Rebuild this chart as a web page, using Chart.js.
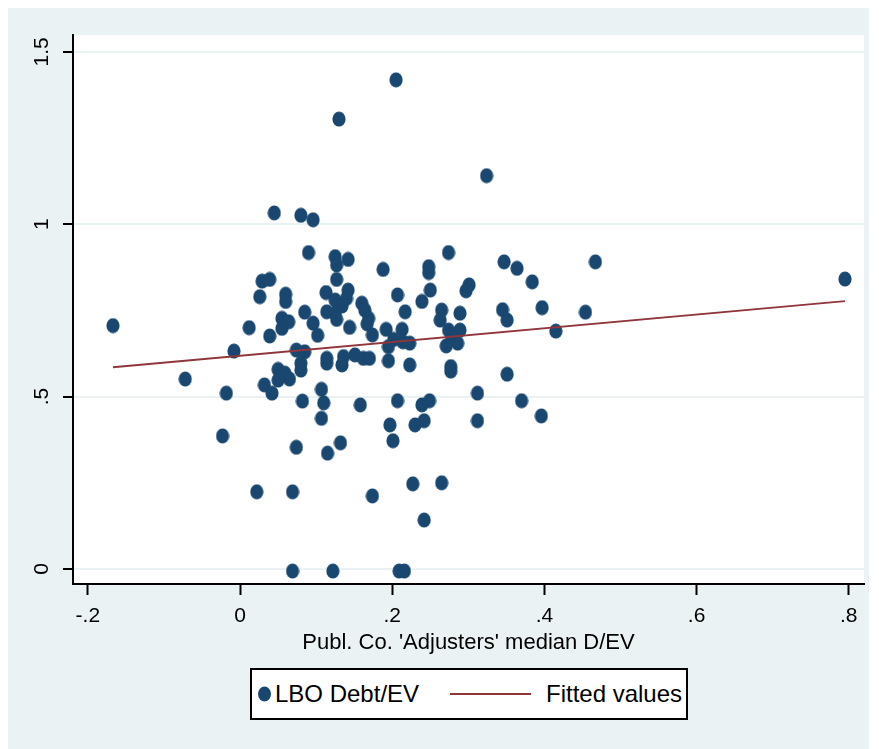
<!DOCTYPE html>
<html>
<head>
<meta charset="utf-8">
<script src="https://cdn.jsdelivr.net/npm/chart.js@4.4.1/dist/chart.umd.min.js"></script>
<style>
  html, body { margin: 0; padding: 0; background: #ffffff; }
  #wrap { position: relative; width: 879px; height: 749px; overflow: hidden; }
  #chart { position: absolute; left: 0; top: 0; }
  .legend {
    position: absolute; left: 250px; top: 668px; width: 438px; height: 52px;
    box-sizing: border-box; border: 2px solid #000; background: #fff;
    font-family: 'Liberation Sans', Arial, sans-serif; font-size: 24px; color: #000;
  }
  .legend span { position: absolute; top: 50%; transform: translateY(-50%); white-space: nowrap; }
  .legend .dot { left: 6px; width: 13px; height: 15px; border-radius: 50%; background: #1a476f; }
  .legend .line { left: 198px; width: 81px; height: 2px; background: #90353b; }
</style>
</head>
<body>
<div id="wrap">
  <canvas id="chart" width="879" height="749"></canvas>
  <div class="legend">
    <span class="dot"></span>
    <span style="left: 23px;">LBO Debt/EV</span>
    <span class="line"></span>
    <span style="left: 294px;">Fitted values</span>
  </div>
</div>
<script>
  // x: public company "adjusters" median D/EV, y: LBO Debt/EV
  const adjusterDEV = [
    0.205, 0.130, 0.324, 0.045, 0.080, 0.096, 0.090, 0.125, 0.127, 0.142,
    0.274, 0.188, 0.248, 0.248, 0.347, 0.364, 0.384, 0.467, 0.795, 0.127,
    0.029, 0.039, 0.026, 0.060, 0.060, 0.113, 0.142, 0.140, 0.125, 0.134,
    0.160, 0.085, 0.114, 0.125, 0.127, 0.164, 0.055, 0.064, 0.055, 0.096,
    0.012, 0.144, 0.039, 0.102, 0.169, 0.167, 0.174, 0.301, 0.297, 0.250,
    0.207, 0.239, 0.345, 0.351, 0.397, 0.415, 0.454, 0.217, 0.265, 0.289,
    0.263, 0.192, 0.213, 0.202, 0.214, 0.223, 0.195, 0.274, 0.289, 0.278,
    0.286, 0.271, -0.008, 0.074, 0.085, 0.080, 0.080, 0.050, 0.059, 0.065,
    0.050, 0.114, 0.114, 0.136, 0.134, 0.151, 0.162, 0.170, 0.195, 0.223,
    0.277, 0.277, 0.351, -0.167, -0.072, 0.032, 0.042, -0.018, 0.082, 0.107,
    0.110, 0.158, 0.107, 0.207, 0.239, 0.249, 0.197, 0.201, 0.230, 0.242,
    0.312, 0.312, 0.370, 0.396, -0.023, 0.074, 0.115, 0.132, 0.022, 0.069,
    0.174, 0.227, 0.265, 0.242, 0.069, 0.122, 0.209, 0.216
  ];
  const lboDebtEV = [
    1.419, 1.305, 1.141, 1.033, 1.026, 1.013, 0.918, 0.906, 0.882, 0.898,
    0.918, 0.869, 0.877, 0.860, 0.891, 0.872, 0.833, 0.891, 0.841, 0.840,
    0.835, 0.840, 0.790, 0.797, 0.776, 0.802, 0.809, 0.785, 0.780, 0.763,
    0.771, 0.745, 0.746, 0.742, 0.724, 0.751, 0.727, 0.717, 0.698, 0.713,
    0.700, 0.701, 0.676, 0.678, 0.727, 0.711, 0.679, 0.824, 0.807, 0.809,
    0.795, 0.776, 0.752, 0.722, 0.758, 0.690, 0.745, 0.746, 0.751, 0.742,
    0.722, 0.695, 0.695, 0.666, 0.659, 0.655, 0.645, 0.693, 0.693, 0.676,
    0.655, 0.647, 0.632, 0.635, 0.630, 0.597, 0.577, 0.579, 0.568, 0.551,
    0.548, 0.611, 0.597, 0.616, 0.592, 0.621, 0.611, 0.611, 0.604, 0.592,
    0.587, 0.574, 0.565, 0.706, 0.551, 0.534, 0.510, 0.510, 0.487, 0.521,
    0.482, 0.476, 0.437, 0.488, 0.476, 0.488, 0.418, 0.372, 0.418, 0.430,
    0.510, 0.430, 0.488, 0.444, 0.386, 0.353, 0.336, 0.366, 0.224, 0.224,
    0.212, 0.247, 0.250, 0.142, -0.006, -0.006, -0.006, -0.006
  ];
  // fitted line, evaluated at the smallest and largest x
  const fitX = [-0.167, 0.795];
  const fitY = [0.585, 0.777];

  const xTicks = [-0.2, 0, 0.2, 0.4, 0.6, 0.8];
  const xTickLabels = ['-.2', '0', '.2', '.4', '.6', '.8'];
  const yTicks = [0, 0.5, 1, 1.5];
  const yTickLabels = ['0', '.5', '1', '1.5'];

  const navy = '#1a476f';
  const maroon = '#90353b';
  const frame = '#eaf2f3';

  Chart.defaults.font.family = "'Liberation Sans', Arial, sans-serif";
  Chart.defaults.color = '#000';

  // Stata-like marker: a slightly tall ellipse
  const marker = document.createElement('canvas');
  marker.width = 14;
  marker.height = 16;
  (function () {
    const c = marker.getContext('2d');
    c.fillStyle = navy;
    c.beginPath();
    c.ellipse(7, 8, 6.6, 7.6, 0, 0, Math.PI * 2);
    c.fill();
  })();

  const backdrop = {
    id: 'backdrop',
    beforeDraw(chart) {
      const { ctx, chartArea } = chart;
      ctx.save();
      ctx.fillStyle = '#ffffff';
      ctx.fillRect(0, 0, chart.width, chart.height);
      ctx.fillStyle = frame;
      ctx.fillRect(8, 8, 861, 741);
      ctx.fillStyle = '#ffffff';
      ctx.fillRect(chartArea.left, chartArea.top, chartArea.right - chartArea.left, chartArea.bottom - chartArea.top);
      ctx.restore();
    }
  };

  new Chart(document.getElementById('chart'), {
    type: 'scatter',
    data: {
      datasets: [
        {
          label: 'LBO Debt/EV',
          data: adjusterDEV.map((x, i) => ({ x, y: lboDebtEV[i] })),
          pointStyle: marker,
          pointRadius: 7,
          order: 1
        },
        {
          type: 'line',
          label: 'Fitted values',
          data: fitX.map((x, i) => ({ x, y: fitY[i] })),
          borderColor: maroon,
          borderWidth: 2,
          pointRadius: 0,
          fill: false,
          order: 0
        }
      ]
    },
    options: {
      responsive: false,
      animation: false,
      devicePixelRatio: 1,
      layout: { padding: { top: 35, right: 15, bottom: 91, left: 0 } },
      plugins: { legend: { display: false }, tooltip: { enabled: false } },
      scales: {
        x: {
          type: 'linear',
          min: -0.2195,
          max: 0.82,
          afterFit: (scale) => { scale.height = 74; },
          afterBuildTicks: (scale) => { scale.ticks = xTicks.map((v) => ({ value: v })); },
          grid: { drawOnChartArea: false, tickColor: '#000', tickLength: 11, tickWidth: 2 },
          border: { color: '#000', width: 2 },
          ticks: {
            padding: 9,
            font: { size: 21 },
            maxRotation: 0,
            callback: (v, i) => xTickLabels[i]
          },
          title: {
            display: true,
            text: "Publ. Co. 'Adjusters' median D/EV",
            font: { size: 22 },
            padding: { top: 0, bottom: 2 }
          }
        },
        y: {
          type: 'linear',
          min: -0.0436,
          max: 1.549,
          afterFit: (scale) => { scale.width = 73; },
          afterBuildTicks: (scale) => { scale.ticks = yTicks.map((v) => ({ value: v })); },
          grid: { color: frame, lineWidth: 2, tickColor: '#000', tickLength: 10, tickWidth: 2 },
          border: { color: '#000', width: 2 },
          ticks: {
            padding: 6,
            font: { size: 21 },
            minRotation: 90,
            maxRotation: 90,
            crossAlign: 'center',
            callback: (v, i) => yTickLabels[i]
          }
        }
      }
    },
    plugins: [backdrop]
  });
</script>
</body>
</html>
